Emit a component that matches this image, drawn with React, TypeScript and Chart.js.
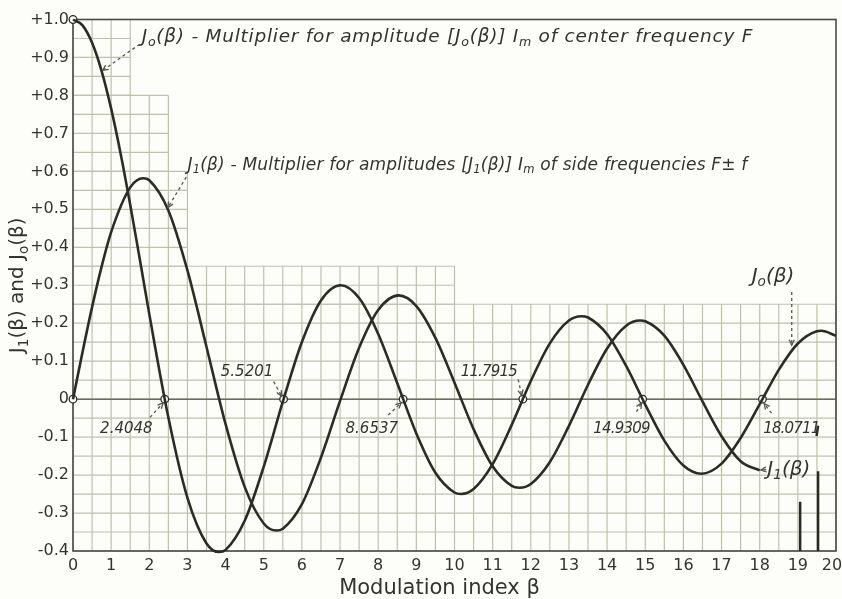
import { useEffect, useRef } from 'react';
import { Chart, registerables } from 'chart.js';
Chart.register(...registerables);

// ---- data (extremes included) ----
const J0_BETA = [0, 0.25, 0.5, 0.75, 1, 1.25, 1.5, 1.75, 2, 2.5, 3, 3.5, 3.8317, 4, 4.5, 5, 5.5, 6, 6.5, 7.0156,
  7.5, 8, 8.5, 9, 9.5, 10, 10.1735, 10.5, 11, 11.5, 12, 12.5, 13, 13.3237, 13.5, 14, 14.5, 15, 15.5, 16,
  16.4706, 17, 17.5, 18, 18.5, 19, 19.5, 19.6159, 20];
const J0 = [1.0, 0.9844, 0.9385, 0.8642, 0.7652, 0.6459, 0.5118, 0.3690, 0.2239, -0.0484, -0.2601, -0.3801,
  -0.4028, -0.3971, -0.3205, -0.1776, -0.0068, 0.1506, 0.2601, 0.3001, 0.2663, 0.1717, 0.0419, -0.0903,
  -0.1939, -0.2459, -0.2497, -0.2366, -0.1712, -0.0677, 0.0477, 0.1469, 0.2069, 0.2184, 0.2150, 0.1711,
  0.0875, -0.0142, -0.1092, -0.1749, -0.1965, -0.1699, -0.1025, -0.0134, 0.0772, 0.1466, 0.1789,
  0.1801, 0.1670];
const J1_BETA = [0, 0.25, 0.5, 0.75, 1, 1.5, 1.8412, 2, 2.5, 3, 3.5, 4, 4.5, 5, 5.3314, 5.5, 6, 6.5, 7, 7.5, 8,
  8.5363, 9, 9.5, 10, 10.5, 11, 11.5, 11.706, 12, 12.5, 13, 13.5, 14, 14.5, 14.8636, 15, 15.5, 16, 16.5,
  17, 17.5, 18];
const J1 = [0, 0.1240, 0.2423, 0.3492, 0.4401, 0.5579, 0.5819, 0.5767, 0.4971, 0.3391, 0.1374, -0.0660,
  -0.2311, -0.3276, -0.3461, -0.3414, -0.2767, -0.1538, -0.0047, 0.1352, 0.2346, 0.2733, 0.2453, 0.1613,
  0.0435, -0.0789, -0.1768, -0.2284, -0.2333, -0.2234, -0.1655, -0.0703, 0.0380, 0.1334, 0.1934, 0.2070,
  0.2051, 0.1672, 0.0904, -0.0058, -0.0977, -0.1636, -0.1876];
const J0_ZEROS = [2.4048, 5.5201, 8.6537, 11.7915, 14.9309, 18.0711];
const ZERO_LABELS = ['2.4048', '5.5201', '8.6537', '11.7915', '14.9309', '18.0711'];
const X_TICK_LABELS = ['0', '1', '2', '3', '4', '5', '6', '7', '8', '9', '10', '11', '12', '13', '14',
  '15', '16', '17', '18', '19', '20'];
const Y_TICK_LABELS = ['-0.4', '-0.3', '-0.2', '-0.1', '0', '+0.1', '+0.2', '+0.3', '+0.4', '+0.5',
  '+0.6', '+0.7', '+0.8', '+0.9', '+1.0'];

// ---- styling ----
const FAMILY = '"DejaVu Sans", sans-serif';
const INK = '#2c2c26';
const TEXT = '#34342f';
const GRID = '#c0c0b1';
const PAPER = '#fdfdf9';

type Seg = { t: string; sub?: boolean };

// fine-grid patches of the scanned graph paper (data units)
const GRID_PATCHES = [
  { x0: 0, x1: 1.5, y0: 0.8, y1: 1.0 },
  { x0: 0, x1: 2.5, y0: 0.6, y1: 0.8 },
  { x0: 0, x1: 3.0, y0: 0.35, y1: 0.6 },
  { x0: 0, x1: 10, y0: 0.25, y1: 0.35 },
  { x0: 0, x1: 20, y0: -0.4, y1: 0.25 },
];

const NOTES: { segs: Seg[]; x: number; y: number; size: number; align: 'left' | 'right'; sp?: number }[] = [
  {
    segs: [{ t: 'J' }, { t: 'o', sub: true }, { t: '(β) - Multiplier for amplitude [J' }, { t: 'o', sub: true },
      { t: '(β)] I' }, { t: 'm', sub: true }, { t: ' of center frequency F' }],
    x: 1.8, y: 0.954, size: 18.5, align: 'left', sp: 0.75,
  },
  {
    segs: [{ t: 'J' }, { t: '1', sub: true }, { t: '(β) - Multiplier for amplitudes [J' }, { t: '1', sub: true },
      { t: '(β)] I' }, { t: 'm', sub: true }, { t: ' of side frequencies F± f' }],
    x: 3.0, y: 0.616, size: 17, align: 'left', sp: 0.2,
  },
  { segs: [{ t: ZERO_LABELS[0] }], x: 0.71, y: -0.078, size: 15, align: 'left' },
  { segs: [{ t: ZERO_LABELS[1] }], x: 5.25, y: 0.072, size: 15, align: 'right' },
  { segs: [{ t: ZERO_LABELS[2] }], x: 8.52, y: -0.078, size: 15, align: 'right' },
  { segs: [{ t: ZERO_LABELS[3] }], x: 11.64, y: 0.072, size: 15, align: 'right', sp: -0.8 },
  { segs: [{ t: ZERO_LABELS[4] }], x: 13.64, y: -0.078, size: 15, align: 'left', sp: -0.8 },
  { segs: [{ t: ZERO_LABELS[5] }], x: 18.09, y: -0.078, size: 15, align: 'left', sp: -0.8 },
  { segs: [{ t: 'J' }, { t: '1', sub: true }, { t: '(β)' }], x: 18.2, y: -0.185, size: 20, align: 'left' },
  { segs: [{ t: 'J' }, { t: 'o', sub: true }, { t: '(β)' }], x: 17.79, y: 0.323, size: 20, align: 'left' },
];

const LEADERS: { from: [number, number]; to: [number, number] }[] = [
  { from: [1.75, 0.935], to: [0.78, 0.866] },
  { from: [2.97, 0.585], to: [2.49, 0.505] },
  { from: [2.02, -0.048], to: [2.36, -0.01] },
  { from: [5.26, 0.046], to: [5.47, 0.008] },
  { from: [8.26, -0.042], to: [8.6, -0.01] },
  { from: [11.67, 0.052], to: [11.76, 0.01] },
  { from: [14.77, -0.033], to: [14.9, -0.01] },
  { from: [18.31, -0.037], to: [18.12, -0.012] },
  { from: [18.17, -0.185], to: [18.03, -0.187] },
  { from: [18.84, 0.282], to: [18.84, 0.142] },
];

function setFont(ctx: any, size: number, italic: boolean, sp: number) {
  ctx.font = `${italic ? 'italic ' : ''}${size}px ${FAMILY}`;
  if ('letterSpacing' in ctx) ctx.letterSpacing = `${sp}px`;
}

function richWidth(ctx: any, segs: Seg[], size: number, italic: boolean, sp = 0) {
  let w = 0;
  for (const s of segs) {
    setFont(ctx, s.sub ? size * 0.68 : size, italic, sp);
    w += ctx.measureText(s.t).width;
  }
  return w;
}

function drawRich(ctx: any, segs: Seg[], x: number, y: number, size: number, italic: boolean, sp = 0) {
  let cx = x;
  ctx.textBaseline = 'middle';
  ctx.textAlign = 'left';
  for (const s of segs) {
    setFont(ctx, s.sub ? size * 0.68 : size, italic, sp);
    ctx.fillText(s.t, cx, y + (s.sub ? size * 0.3 : 0));
    cx += ctx.measureText(s.t).width;
  }
  setFont(ctx, size, italic, 0);
}

const paperPlugin = {
  id: 'paper',
  beforeDatasetsDraw(chart: any) {
    const { ctx, chartArea: a, scales } = chart;
    const xs = scales.x, ys = scales.y;
    ctx.save();
    ctx.strokeStyle = GRID;
    ctx.lineWidth = 1.2;
    for (const p of GRID_PATCHES) {
      ctx.beginPath();
      for (let k = Math.round(p.x0 * 2); k <= Math.round(p.x1 * 2); k++) {
        const px = xs.getPixelForValue(k / 2);
        ctx.moveTo(px, ys.getPixelForValue(p.y0));
        ctx.lineTo(px, ys.getPixelForValue(p.y1));
      }
      for (let k = Math.round(p.y0 * 20); k <= Math.round(p.y1 * 20); k++) {
        const py = ys.getPixelForValue(k / 20);
        ctx.moveTo(xs.getPixelForValue(p.x0), py);
        ctx.lineTo(xs.getPixelForValue(p.x1), py);
      }
      ctx.stroke();
    }
    // zero line
    ctx.strokeStyle = '#6a6a60';
    ctx.lineWidth = 1.5;
    ctx.beginPath();
    const y0 = ys.getPixelForValue(0);
    ctx.moveTo(a.left, y0);
    ctx.lineTo(a.right, y0);
    ctx.stroke();
    // frame
    ctx.strokeStyle = '#4a4a42';
    ctx.lineWidth = 1.6;
    ctx.strokeRect(a.left, a.top, a.right - a.left, a.bottom - a.top);
    // scan marks near lower right
    ctx.strokeStyle = '#2a2a24';
    ctx.lineWidth = 2.5;
    ctx.beginPath();
    ctx.moveTo(xs.getPixelForValue(19.06), ys.getPixelForValue(-0.27));
    ctx.lineTo(xs.getPixelForValue(19.06), a.bottom);
    ctx.moveTo(xs.getPixelForValue(19.53), ys.getPixelForValue(-0.19));
    ctx.lineTo(xs.getPixelForValue(19.53), a.bottom);
    ctx.moveTo(xs.getPixelForValue(19.53), ys.getPixelForValue(-0.07));
    ctx.lineTo(xs.getPixelForValue(19.49), ys.getPixelForValue(-0.097));
    ctx.stroke();
    ctx.restore();
  },
  afterDraw(chart: any) {
    const { ctx, chartArea: a, scales } = chart;
    const xs = scales.x, ys = scales.y;
    ctx.save();
    ctx.fillStyle = TEXT;
    for (const n of NOTES) {
      let px = xs.getPixelForValue(n.x);
      const py = ys.getPixelForValue(n.y);
      if (n.align === 'right') px -= richWidth(ctx, n.segs, n.size, true, n.sp ?? 0);
      drawRich(ctx, n.segs, px, py, n.size, true, n.sp ?? 0);
    }
    ctx.strokeStyle = '#55554d';
    ctx.lineWidth = 1.3;
    for (const l of LEADERS) {
      const x1 = xs.getPixelForValue(l.from[0]), y1 = ys.getPixelForValue(l.from[1]);
      const x2 = xs.getPixelForValue(l.to[0]), y2 = ys.getPixelForValue(l.to[1]);
      ctx.setLineDash([3, 3]);
      ctx.beginPath();
      ctx.moveTo(x1, y1);
      ctx.lineTo(x2, y2);
      ctx.stroke();
      ctx.setLineDash([]);
      const ang = Math.atan2(y2 - y1, x2 - x1);
      const h = 6;
      ctx.beginPath();
      ctx.moveTo(x2 - h * Math.cos(ang - 0.45), y2 - h * Math.sin(ang - 0.45));
      ctx.lineTo(x2, y2);
      ctx.lineTo(x2 - h * Math.cos(ang + 0.45), y2 - h * Math.sin(ang + 0.45));
      ctx.stroke();
    }
    // x tick labels
    setFont(ctx, 16, false, 0);
    ctx.textAlign = 'center';
    ctx.textBaseline = 'middle';
    X_TICK_LABELS.forEach((lab, i) => {
      const px = xs.getPixelForValue(i) - (i === X_TICK_LABELS.length - 1 ? 4 : 0);
      ctx.fillText(lab, px, a.bottom + 15);
    });
    // axis titles
    setFont(ctx, 21, false, 0);
    ctx.fillText('Modulation index β', (a.left + a.right) / 2 - 15, 589);
    const ySegs: Seg[] = [{ t: 'J' }, { t: '1', sub: true }, { t: '(β) and J' }, { t: 'o', sub: true }, { t: '(β)' }];
    const w = richWidth(ctx, ySegs, 20, false);
    ctx.translate(21, (a.top + a.bottom) / 2);
    ctx.rotate(-Math.PI / 2);
    drawRich(ctx, ySegs, -w / 2, -3, 20, false);
    ctx.restore();
  },
};

export default function App() {
  const ref = useRef<HTMLCanvasElement>(null);
  useEffect(() => {
    const canvas = ref.current;
    if (!canvas) return;
    const markers = [{ x: 0, y: 1 }, { x: 0, y: 0 }, ...J0_ZEROS.map((z) => ({ x: z, y: 0 }))];
    const chart = new Chart(canvas, {
      type: 'line',
      data: {
        datasets: [
          {
            label: 'J0', data: J0_BETA.map((b, i) => ({ x: b, y: J0[i] })), borderColor: INK, borderWidth: 2.6,
            pointRadius: 0, tension: 0.4, cubicInterpolationMode: 'monotone', clip: false as any,
          },
          {
            label: 'J1', data: J1_BETA.map((b, i) => ({ x: b, y: J1[i] })), borderColor: INK, borderWidth: 2.6,
            pointRadius: 0, tension: 0.4, cubicInterpolationMode: 'monotone', clip: false as any,
          },
          {
            label: 'marks', data: markers, showLine: false, pointRadius: 3.8, pointBackgroundColor: PAPER,
            pointBorderColor: INK, pointBorderWidth: 1.3, clip: false as any,
          },
        ],
      },
      options: {
        animation: false,
        responsive: false,
        maintainAspectRatio: false,
        layout: { padding: { left: 0, top: 19.5, right: 6, bottom: 0 } },
        plugins: { legend: { display: false }, tooltip: { enabled: false } },
        scales: {
          x: {
            type: 'linear', min: 0, max: 20,
            grid: { display: false, drawTicks: false }, border: { display: false },
            ticks: { display: false, stepSize: 1 },
            afterFit: (s: any) => { s.height = 48; s.paddingLeft = 0; s.paddingRight = 0; },
          },
          y: {
            type: 'linear', min: -0.4, max: 1.0,
            grid: { display: false, drawTicks: false }, border: { display: false },
            ticks: {
              stepSize: 0.1, autoSkip: false, padding: 4, color: TEXT,
              font: { family: FAMILY, size: 16 },
              callback: (v: any) => Y_TICK_LABELS[Math.round((Number(v) + 0.4) * 10)] ?? '',
            },
            afterFit: (s: any) => { s.width = 73; },
          },
        },
      },
      plugins: [paperPlugin],
    });
    return () => chart.destroy();
  }, []);
  return (
    <div style={{ position: 'absolute', left: 0, top: 0, width: 842, height: 599, background: PAPER }}>
      <canvas ref={ref} width={842} height={599} style={{ display: 'block', width: 842, height: 599 }} />
    </div>
  );
}
